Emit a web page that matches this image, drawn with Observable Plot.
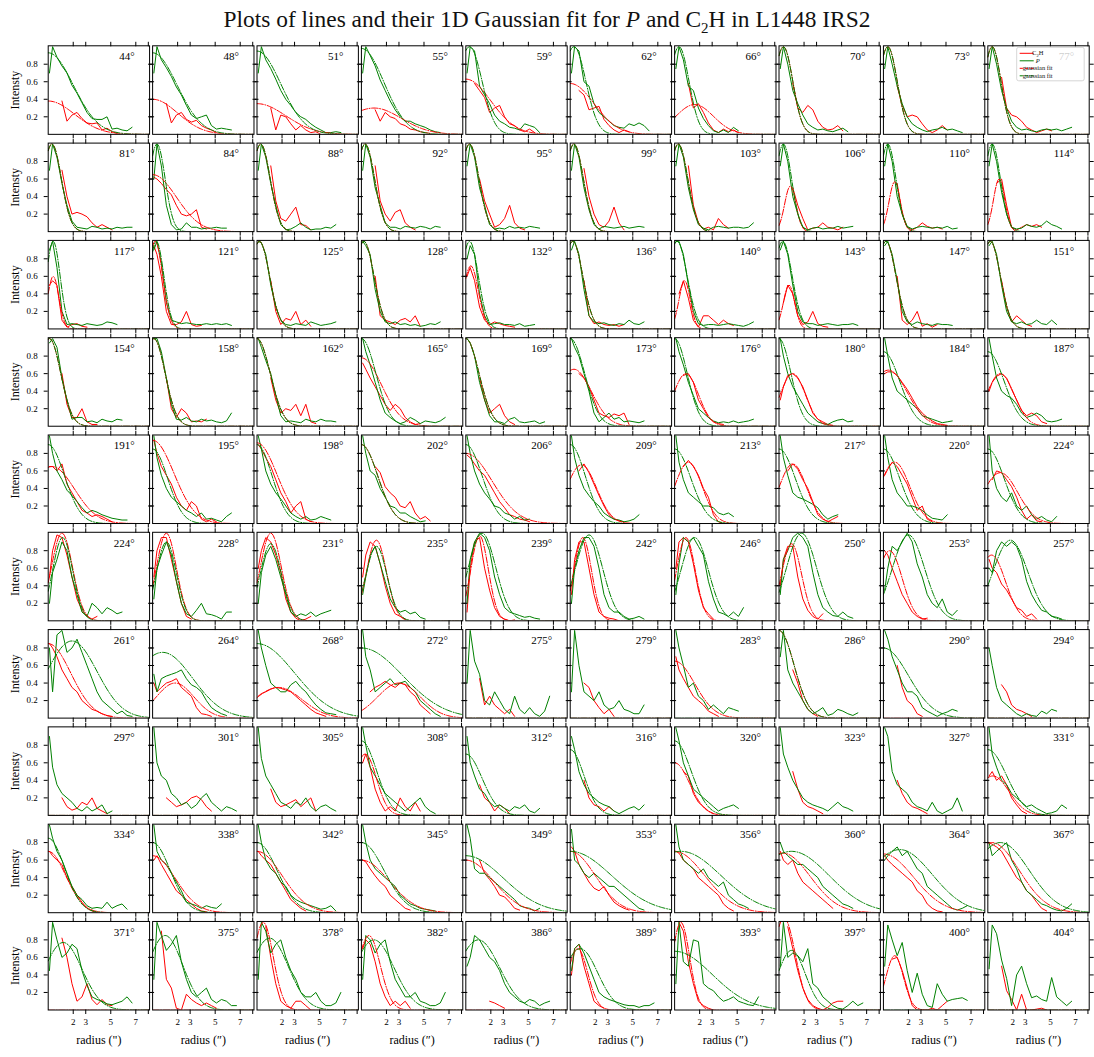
<!DOCTYPE html>
<html><head><meta charset="utf-8">
<script src="https://cdn.jsdelivr.net/npm/d3@7"></script>
<script src="https://cdn.jsdelivr.net/npm/@observablehq/plot@0.6"></script>
<style>
body{margin:0;background:#fff;font-family:"Liberation Serif",serif;}
#title{height:36px;width:1094px;text-align:center;font-size:23.4px;line-height:38px;color:#111;font-family:"Liberation Serif",serif;}
#title sub{font-size:15px;}
#chart svg{display:block;}
</style></head><body>
<div id="title">Plots of lines and their 1D Gaussian fit for <i>P</i> and C<sub>2</sub>H in L1448 IRS2</div>
<div id="chart"></div>
<script>
const _ = null;
// position angle of each panel (row-major, 10 x 10)
const angles = [44,48,51,55,59,62,66,70,73,77, 81,84,88,92,95,99,103,106,110,114,
 117,121,125,128,132,136,140,143,147,151, 154,158,162,165,169,173,176,180,184,187,
 191,195,198,202,206,209,213,217,220,224, 224,228,231,235,239,242,246,250,253,257,
 261,264,268,272,275,279,283,286,290,294, 297,301,305,308,312,316,320,323,327,331,
 334,338,342,345,349,353,356,360,364,367, 371,375,378,382,386,389,393,397,400,404];
// radius sampling (arcsec)
const radii = [0.1,0.35,0.7,1.1,1.5,1.9,2.3,2.7,3.1,3.5,3.9,4.3,4.7,5.1,5.5,5.9,6.3,6.7];
// P (green) intensity profiles
const greenLines = [
[.7,1,.88,.78,.7,.56,.47,.36,.25,.18,.17,.17,.2,.06,.07,.05,.04,.08],
[.7,1,.85,.76,.66,.54,.45,.33,.22,.18,.2,.22,.1,.06,.07,.06,.05],
[.7,1,.85,.75,.63,.5,.4,.33,.25,.2,.17,.12,.08,.05,.02,.02,.03,.02],
[.7,1,.9,.78,.62,.5,.38,.28,.2,.15,.15,.12,.1,.08,.05,.03,.02],
[.7,1,.95,.55,.45,.35,.22,.15,.12,.08,.07,.05,.12,.1,.08,.02],
[.7,1,.95,.6,.55,.35,.25,.2,.15,.1,.08,.07,.12,.1,.13,.1,.04],
[.75,1,.85,.55,.5,.3,.18,.1,.04,.02,.05,.02,.08,.04],
[.75,1,.8,.5,.35,.22,.12,.08,.05,.06,.04,.03,.05,.07,.03],
[.75,1,.8,.55,.35,.2,.12,.08,.05,.03,.05,.06,.08,.05,.06,.04,.02],
[.75,1,.8,.5,.3,.15,.08,.05,.06,.04,.03,.05,.06,.05,.06,.04,.06,.08],
[.7,1,.85,.55,.3,.12,.05,.04,.03,.06,.05,.03,.04,.03,.05,.04,.05,.05],
[.6,1,.75,.3,.08,.02,.03,.1,.05,.05,.03,.04,.04,.05,.04,.04],
[.7,1,.85,.55,.3,.08,.02,.03,.06,.1,.05,.02,.03,.03,.05,.04,.08],
[.7,1,.85,.5,.3,.1,.05,.05,.03,.06,.05,.04,.06,.05,.03,.06,.05],
[.75,1,.85,.5,.3,.08,.03,.04,.03,.06,.04,.05,.04,.06,.05,.04],
[.7,1,.85,.5,.25,.08,.03,.06,.05,.04,.05,.06,.04,.05,.06,.05],
[.75,1,.85,.5,.25,.08,.04,.02,.05,.06,.05,.04,.05,.05,.04,.05,.1],
[.75,1,.8,.4,.2,.05,.02,.04,.05,.03,.04,.04,.06,.04,.05,.06],
[.75,1,.8,.4,.2,.06,.03,.05,.06,.05,.04,.05,.04,.06,.03,.04],
[.75,1,.8,.45,.2,.05,.03,.04,.08,.06,.05,.07,.12,.08,.06,.03],
[.9,1,.7,.2,.05,.06,.05,.04,.06,.05,.04,.05,.08,.07,.05],
[.9,1,.75,.3,.1,.08,.06,.07,.06,.05,.05,.06,.05,.06,.05,.06,.04],
[1,.98,.85,.5,.25,.1,.05,.04,.06,.05,.04,.08,.06,.04,.05,.06,.08],
[1,.95,.85,.45,.2,.08,.06,.08,.05,.06,.04,.05,.03,.04,.06,.05,.08],
[.8,.95,.85,.4,.15,.05,.06,.07,.05,.05,.04,.06,.03,.04,.05],
[.9,1,.85,.45,.15,.08,.06,.07,.05,.04,.06,.05,.1,.06,.05,.08],
[1,1,.85,.5,.2,.06,.04,.05,.05,.04,.05,.06,.05,.04,.03,.05,.08],
[.9,1,.85,.5,.2,.08,.06,.06,.04,.05,.06,.05,.04,.05,.05,.06,.04],
[.95,1,.85,.55,.2,.08,.05,.08,.06,.05,.04,.06,.05,.05,.04],
[.95,1,.85,.5,.2,.08,.06,.08,.05,.06,.1,.06,.05,.1,.05],
[.95,1,.9,.55,.3,.08,.1,.1,.05,.06,.04,.08,.06,.05,.08,.07],
[1,1,.85,.55,.25,.08,.07,.1,.06,.05,.08,.06,.07,.05,.04,.06,.15],
[1,.9,.75,.6,.35,.12,.05,.06,.05,.04,.08,.06,.05,.08,.06,.06,.05],
[1,.85,.7,.5,.3,.15,.1,.06,.03,.05,.1,.07,.03,.06,.05,.04,.06,.1],
[1,.95,.8,.5,.3,.12,.05,.05,.03,.08,.1,.05,.04,.05,.06,.03,.05],
[1,.9,.8,.6,.4,.15,.05,.1,.15,.08,.1,.05,.06,.05,.04,.06],
[1,.85,.7,.5,.35,.2,.15,.1,.06,.04,.05,.04,.06,.04,.05,.06,.08],
[1,.8,.6,.45,.35,.25,.15,.1,.05,.03,.02,.05,.07,.08,.05,.06],
[1,.8,.55,.4,.35,.3,.25,.2,.12,.1,.08,.06,.04,.05,.06],
[1,.8,.55,.4,.35,.32,.25,.15,.1,.12,.15,.12,.06,.05,.06,.08],
[1,.8,.6,.5,.38,.32,.25,.18,.12,.15,.13,.1,.08,.06,.05,.04,.04],
[1,.75,.55,.4,.3,.25,.2,.15,.12,.08,.12,.05,.06,.04,.02,.08,.12],
[1,.85,.6,.45,.35,.28,.2,.12,.08,.05,.08,.04,.05,.08,.06,.04],
[1,.8,.6,.55,.4,.3,.2,.18,.12,.12,.08,.05,.02,.03],
[1,.8,.6,.45,.35,.28,.2,.18,.12,.1,.05,.08,.04,.05],
[1,.75,.55,.4,.32,.25,.2,.12,.08,.05,.04,.02,.03,.05,.1],
[1,.7,.5,.35,.3,.25,.2,.2,.18,.12,.1,.12,.08],
[1,.75,.55,.35,.3,.28,.25,.22,.18,.1,.05,.08,.1],
[1,.75,.5,.35,.28,.2,.2,.18,.15,.1,.06,.05,.04,.1],
[1,.6,.4,.3,.25,.35,.2,.15,.2,.1,.05,.08,.04,.02,.08],
[.2,.55,.7,.9,.8,.5,.3,.1,.05,.2,.15,.08,.15,.12,.08,.1],
[.25,.6,.75,.9,.75,.45,.2,.08,.05,.12,.2,.08,.07,.05,.02,.1,.1],
[.2,.55,.75,.85,.7,.5,.3,.1,.05,.08,.06,.1,.05,.08,.1,.12],
[.3,.5,.75,.85,.65,.45,.25,.15,.1,.12,.08,.1,.04,.02],
[.2,.7,.9,1,.95,.8,.5,.3,.15,.1,.08,.06,.04,.05,.03,.02],
[.2,.6,.8,.95,.95,.85,.6,.3,.15,.1,.1,.05,.02,.03,.05,.02],
[.3,.65,.95,.9,.95,.85,.75,.45,.25,.1,.08,.05,.1,.05,.15],
[.3,.7,.8,.95,1,.95,.85,.55,.3,.15,.1,.06,.05,.1,.05,.03],
[.35,.6,.85,.8,.9,1,.9,.65,.5,.3,.2,.15,.25,.1,.06,.12],
[.6,.55,.8,.9,.85,.9,.85,.7,.45,.3,.2,.12,.1,.05,.04,.02],
[.8,.3,.95,1,.75,.8,.9,.75,.6,.45,.3,.2,.15,.1,.05,.08,.03,.02],
[.5,.3,.45,.48,.5,.52,.55,.45,.38,.35,.3,.2,.12,.08,.05,.03],
[1,.8,.6,.4,.35,.3,.3,.38,.42,.35,.3,.22,.15,.1,.06,.05,.04],
[1,.7,.55,.3,.35,.4,.45,.38,.4,.42,.35,.3,.2,.15,.1,.05,.02],
[.4,1,.65,.5,.2,.15,.3,.2,.1,.05,.25,.1,.05,.12,.05,.02,.08,.25],
[.3,1,.6,.3,.25,.2,.3,.15,.1,.12,.2,.1,.08,.05,.05,.15],
[1,.8,.6,.35,.4,.25,.2,.1,.15,.1,.05,.12,.1,.08],
[.7,1,.55,.4,.3,.2,.1,.05,.08,.12,.03,.05,.1,.08,.05,.03,.06],
[1,.9,.7,.55,.4,.3,.3,.25,.12,.08,.05,.02,.05,.07,.1,.08],
[.8,.6,.35,.2,.15,.1,.05,.02,.05,.03,.02,.08,.05,.1,.08],
[.9,.55,.35,.25,.2,.15,.08,.05,.1,.05,.08,.12,.02,.05],
[1,.6,.45,.4,.25,.2,.12,.15,.08,.12,.2,.25,.15,.1,.05,.1,.08,.05],
[1,.65,.45,.35,.25,.15,.12,.08,.15,.12,.2,.1,.05,.1,.12,.08,.05],
[1,.8,.55,.45,.35,.25,.2,.15,.1,.05,.1,.15,.2,.1,.05,.02],
[.9,.6,.45,.3,.25,.15,.1,.12,.08,.05,.1,.08,.12,.05,.03,.08],
[.9,.75,.5,.35,.25,.2,.15,.12,.1,.05,.02,.05,.08,.1,.06,.12],
[1,.85,.6,.45,.3,.25,.2,.15,.1,.05,.08,.1,.12,.08],
[1,.7,.55,.4,.3,.2,.15,.12,.1,.08,.05,.1,.15,.1,.08,.05],
[1,.9,.5,.35,.3,.25,.15,.1,.08,.05,.15,.05,.02,.05,.08,.2,.05],
[1,.7,.55,.4,.35,.25,.2,.15,.1,.12,.08,.05,.02,.03,.05,.12,.08],
[1,.85,.7,.6,.45,.3,.2,.15,.08,.05,.06,.05,.12,.05,.08,.1,.04],
[1,.7,.6,.55,.45,.35,.25,.12,.1,.08,.05,.08,.06,.05,.1],
[1,.8,.6,.5,.45,.35,.3,.2,.15,.12,.1,.08,.06,.04,.05,.08,.02],
[1,.8,.6,.5,.45,.4,.35,.3,.2,.15,.1,.08,.05,.04,.03,.02],
[1,.85,.5,.45,.45,.4,.35,.3,.25,.2,.15,.08,.06,.05,.02,.05],
[.95,.6,.55,.45,.4,.45,.4,.35,.3,.3,.25,.2,.15,.1,.05,.03],
[1,.75,.6,.55,.5,.45,.5,.4,.35,.3,.35,.2,.15,.1,.08,.05],
[.8,.7,.65,.6,.55,.55,.5,.45,.4,.3,.25,.2,.15,.1,.08,.05],
[.6,.65,.7,.75,.65,.7,.6,.5,.45,.3,.25,.2,.15,.1,.05,.03,.05,.08],
[.8,.65,.7,.75,.8,.6,.5,.35,.25,.2,.15,.1,.08,.05,.03,.02,.05,.1],
[.45,1,.8,.6,.65,.75,.7,.45,.28,.15,.12,.1,.07,.06,.08,.1,.15,.08],
[.35,1,.85,.68,.75,.85,.55,.35,.2,.15,.2,.25,.12,.08,.12,.1,.05,.05],
[.35,1,.9,.65,.75,.8,.6,.45,.35,.2,.15,.15,.2,.1,.05,.05,.08,.2],
[.35,.85,.8,.65,.75,.8,.55,.35,.25,.15,.15,.2,.1,.08,.05,.05,.08,.2],
[.5,.6,.85,.8,.7,.6,.55,.45,.3,.2,.15,.1,.08,.12,.1,.05,.08,.1],
[.45,.7,.75,.65,.5,.35,.2,.15,.12,.1,.08,.06,.05,.05,.03,.05,.05,.08],
[.3,1,.55,.5,.8,.78,.3,.25,.22,.15,.1,.12,.15,.1,.08,.06,.05,.15],
[.5,1,.6,.65,.62,.55,.7,.3,.25,.15,.1,.05,.02,.01,.05,.1,.05,.08],
[.5,.97,.8,.62,.77,.45,.2,.42,.18,.05,.03,.3,.18,.1,.12,.13,.14,.11],
[.47,.97,.87,.57,.36,.05,.4,.5,.3,.14,.16,.12,.1,.37,.15,.1,.05,.1]
];
// C2H (red) intensity profiles
const redLines = [
[_,_,_,.38,.15,.22,.25,.18,.13,.12,.13,.05,.07,.03,.01],
[_,_,_,.35,.13,.22,.25,.17,.14,.16,.1,.07,.05,.02],
[_,_,_,.3,.05,.22,.2,.12,.05,.1,.05,.02,.03,0],
[_,_,_,.28,.15,.25,.2,.18,.12,.1,.06,.05,.03,.02,.01],
[_,_,.58,.5,.42,.25,.3,.33,.2,.12,.1,.05,.03,.06,.02],
[_,_,.5,.45,.28,.3,.32,.17,.1,.05,.02,.05,.03],
[_,_,_,.58,.3,.35,.25,.13,.05,.02,.06,.03,.05,.02],
[_,_,_,.58,.3,.25,.33,.28,.15,.08,.05,.06,.1,.04],
[_,_,_,.55,.33,.2,.22,.2,.12,.05,.02,.05,.1,.05],
[_,_,_,.65,.3,.22,.2,.15,.08,.05,.02,.04,.06,.04],
[_,_,_,.7,.4,.2,.22,.2,.17,.1,.05,.08,.05,.02],
[.62,.6,.55,.48,.42,.3,.2,.18,.2,.25,.05,.03],
[_,_,_,.75,.35,.15,.12,.2,.28,.08,.07,.02],
[_,_,_,.75,.35,.2,.12,.22,.25,.1,.05,.02],
[_,_,_,.6,.35,.2,.05,.08,.15,.3,.1,.04,.02],
[_,_,_,.72,.4,.2,.08,.05,.12,.28,.1,.02],
[_,_,_,.75,.3,.1,.03,.05,.02,.15,.08,.04],
[_,_,_,.5,.3,.15,.02,.04,.05,.1,.05,.04,.02,.05],
[_,_,_,.55,.2,.05,.02,.05,.1,.06,.04,.05,.03],
[_,_,.55,.6,.3,.05,.02,.05,.08,.06,.08,.05],
[.5,.55,.5,.1,.02,.05,.06,.03,.02],
[.95,.85,.6,.2,.05,.05,.08,.2,.05,.03,.04],
[_,_,_,.55,.2,.05,.12,.1,.2,.05,.1,.03],
[_,_,_,.6,.15,.1,.08,.05,.1,.12,.08,.15,.03],
[.6,.7,.55,.25,.1,.05,.08,.06,.04,.03,.02],
[_,_,_,.55,.15,.06,.08,.05,.04,.05,.03,.05],
[_,.4,.55,.35,.1,.02,.15,.15,.1,.05,.1,.06,.04],
[_,.3,.5,.4,.15,.05,.08,.2,.06,.03,.02],
[_,_,_,.6,.1,.05,.1,.2,.03,.06,.02,.05],
[_,_,_,.55,.25,.08,.15,.1,.05,.03],
[_,_,_,.6,.25,.1,.1,.2,.05,.02,.02],
[_,_,_,.55,.2,.1,.2,.15,.05,.06,.05,.08],
[_,_,_,.55,.3,.15,.2,.18,.25,.12,.25,.05,.03],
[.72,.65,.55,.45,.35,.25,.18,.25,.2,.1,.05,.02,.03],
[_,_,_,.55,.3,.15,.2,.25,.12,.05,.02],
[_,_,.6,.55,.45,.3,.15,.12,.1,.14,.12,.15,.02],
[_,_,.58,.6,.5,.3,.2,.1,.05,.03,.02],
[.3,.45,.58,.6,.55,.45,.3,.15,.08,.05,.02,.01],
[.6,.62,.62,.58,.5,.42,.32,.22,.15,.1,.06,.03,.02,.01],
[.4,.5,.57,.6,.55,.42,.3,.18,.12,.15,.12,.05,.03],
[.65,.65,.6,.68,.45,.35,.25,.15,.12,.08,.1,.08,.05,.02],
[.95,.8,.65,.55,.45,.3,.2,.15,.25,.2,.05,.02,.05,.02],
[.9,.85,.75,.65,.5,.35,.25,.12,.2,.25,.05,.02],
[_,_,_,.65,.58,.42,.35,.3,.2,.18,.25,.12,.05,.08,.03],
[.78,.75,.68,.6,.55,.45,.35,.25,.18,.1,.08,.05,.04,.02],
[_,_,.6,.68,.58,.45,.32,.2,.1,.05,.03,.02],
[_,_,.65,.72,.65,.55,.4,.3,.1,.02,0],
[_,_,.6,.68,.62,.5,.4,.25,.1,.05,.02,.05,.08],
[.55,.62,.7,.65,.55,.45,.3,.15,.2,.05,.02],
[_,.5,.6,.58,.5,.42,.3,.15,.05,.1,.03,.02],
[.5,.8,.98,.95,.75,.5,.25,.12,.05,.02,.05],
[.5,.8,.95,.95,.7,.45,.2,.05,.02],
[.6,.8,.95,.9,.75,.55,.25,.1,.03,0,.02,.05],
[.5,.75,.9,.85,.65,.4,.2,.08,.05,.02],
[.1,.6,.9,.95,.6,.35,.15,.05,.02,0,.01],
[.3,.7,.9,.9,.6,.3,.1,.05,.03,.02,0],
[.6,.9,.95,.9,.65,.35,.15,.08,.02],
[.4,.7,.85,.85,.5,.25,.12,.05,.02,.08],
[.8,.75,.6,.45,.3,.2,.1,.05,.02,.03],
[.7,.6,.55,.42,.35,.25,.15,.12,.05,.08,.02],
[.85,.8,.7,.55,.45,.35,.3,.2,.15,.1,.08,.05,.03,.02],
[.4,.3,.35,.4,.42,.45,.35,.3,.25,.12,.05,.04,.02],
[.25,.28,.3,.33,.35,.34,.32,.3,.25,.2,.15,.1,.06,.04,.02],
[_,_,.3,.35,.38,.42,.38,.35,.4,.38,.3,.25,.15,.1,.05],
[_,_,_,.45,.15,.25,.15,.1,.05,.1,.02],
[_,_,_,.4,.35,.2,.12,.05,.1,.02],
[.7,.55,.45,.35,.25,.2,.15,.08,.05,.02],
[_,_,_,.55,.4,.2,.1,.05,.02],
[_,_,_,.6,.35,.2,.15,.05,.02],
[_,_,_,.38,.3,.15,.1,.08,.05,.02],
[_,_,_,.2,.1,.06,.08,.15,.12,.2,.08,.05,.02],
[_,_,_,.2,.15,.1,.12,.15,.2,.22,.18,.1,.05],
[_,_,_,.3,.15,.1,.12,.15,.18,.1,.15,.2,.05],
[.6,.7,.55,.3,.15,.05,.1,.05,.2,.1,.05,.15,.05],
[_,_,_,.35,.2,.15,.05,.12,.08,.02],
[_,_,_,.4,.2,.12,.1,.05,.1,.05],
[_,_,.5,.45,.25,.15,.1,.05,.02],
[_,_,_,.5,.3,.15,.1,.08,.05,.02],
[_,_,_,.4,.25,.15,.1,.08,.05,.02],
[.45,.5,.4,.45,.35,.2,.12,.05,.02],
[.7,.65,.6,.55,.4,.3,.2,.12,.05,.02,0],
[.6,.65,.55,.45,.35,.25,.2,.15,.1,.05,.02,.01],
[.7,.65,.6,.55,.45,.35,.25,.15,.1,.05,.02],
[.6,.58,.5,.42,.35,.3,.2,.15,.1,.05,.03],
[_,_,_,.6,.45,.38,.3,.2,.18,.12,.05,.03],
[.75,.7,.55,.45,.35,.28,.25,.3,.2,.12,.08,.05,.03],
[.7,.68,.6,.55,.5,.4,.35,.3,.25,.2,.1,.05,.02],
[.7,.6,.55,.6,.45,.35,.3,.25,.2,.15,.1,.05],
[.65,.6,.55,.5,.45,.4,.35,.25,.2,.1,.05,.02,.01],
[.8,.78,.75,.7,.6,.5,.4,.35,.25,.2,.12,.05,.02],
[_,_,_,.82,.6,.3,.1,.15,.3,.12,.06,.12,.06,.05],
[_,_,.9,.35,.25,.02,0,.18,.12,.08,.05,.08,.05,.02],
[_,_,.95,.6,.3,.1,.05,.02,.1,.1,.05,0],
[.7,.8,.75,.55,.3,.15,.05,.1,.05,.1,.02],
[_,_,_,_,_,.1,.08,.05,.02],
[.4,.7,.75,.5,.3,.1,.05,.02],
[_,1,.9,.55,.3,.1,.05,.02,0],
[_,_,.95,.7,.45,.25,.12,.05,.02,0,.03,.08,.1,.1],
[_,_,.58,.6,.45,.25,.05,0,0,0,.02,0,.05,.1],
[_,_,_,.5,.22,.12,0,.18,0,0,.01,.02,0]
];
// 1D Gaussian fit parameters [amplitude, centre (arcsec), sigma (arcsec)]
const greenFits = [
[.93,0,2],[.93,0,1.95],[.95,0,1.9],[.98,0,1.8],[1,.3,1],[1,.3,.95],[1,.35,.8],[1,.35,.75],[1,.35,.75],[1,.35,.7],
[1,.3,.75],[1,.35,.65],[1,.3,.75],[1,.3,.75],[1,.3,.75],[1,.3,.75],[1,.3,.75],[1,.35,.65],[1,.35,.65],[1,.35,.65],
[1,.4,.55],[1,.3,.6],[1,.2,.8],[1,.2,.8],[1,.3,.7],[1,.2,.8],[1,.2,.8],[1,.3,.75],[1,.2,.8],[1,.2,.8],
[1,.1,.9],[1,.1,.9],[1,0,1.05],[1,0,1.15],[1,0,1.05],[1,0,1.15],[1,0,1],[1,0,.95],[.85,0,1.3],[.85,0,1.3],
[.9,0,1.3],[.85,0,1.2],[.9,0,1.2],[.9,0,1.3],[.9,0,1.3],[.9,0,1.2],[.85,0,1.3],[.85,0,1.3],[.85,0,1.3],[.85,0,1.3],
[.95,1.15,.8],[.9,1.1,.8],[.88,1.1,.85],[.85,1.2,.85],[1,1.3,1.1],[.98,1.5,1.1],[.95,1.6,1.1],[1,1.8,1.2],[.98,2,1.3],[.92,1.8,1.4],
[.88,1.9,2],[.75,.8,2.4],[.85,0,3],[.8,0,3.3],[0,0,1],[0,0,1],[0,0,1],[1,0,1.2],[.8,0,2],[0,0,1],
[0,0,1],[0,0,1],[0,0,1],[.85,0,1.2],[.7,0,1.3],[.75,0,1.1],[.85,0,1.3],[0,0,1],[0,0,1],[.75,0,1.5],
[.85,0,1.3],[.8,0,1.4],[.8,0,1.6],[.8,0,1.8],[.65,0,3],[.7,0,3.3],[.7,.5,3.2],[.7,1,3],[.72,1.3,2.6],[.8,1,2.3],
[.77,1.2,1.5],[.85,1,1.4],[.82,1,1.5],[.8,1,1.6],[.8,1,1.7],[.7,.8,1.4],[.67,0,3],[.68,1,1.1],[0,0,1],[0,0,1]
];
const redFits = [
[.38,0,2.1],[.4,0,2],[.35,0,2.3],[.3,1,2.2],[.63,0,2],[.58,0,1.9],[.34,1.6,1.5],[1,.35,.75],[1,.35,.75],[1,.35,.7],
[1,.3,.75],[.65,0,1.9],[1,.3,.75],[1,.3,.75],[1,.3,.75],[1,.3,.75],[1,.3,.75],[.52,.9,.45],[.57,.9,.45],[.6,.9,.45],
[.6,.4,.45],[1,.2,.6],[1,.2,.8],[1,.2,.8],[.72,.4,.6],[1,.2,.8],[.55,.8,.45],[.5,.8,.45],[1,.2,.8],[1,.2,.8],
[1,.1,.9],[1,.1,.9],[1,0,1.05],[.78,0,1.6],[1,0,1.05],[.65,.3,1.4],[.6,.9,1],[.6,1.1,1],[.64,.4,1.5],[.6,1,1.1],
[.65,.3,1.8],[.95,0,1.7],[.92,0,1.6],[.9,0,1.3],[.8,0,2.1],[.67,.9,1.2],[.7,1.1,1.1],[.68,1.1,1.1],[.7,.9,1.2],[.58,1,1.4],
[1,1.1,.85],[1,1.1,.8],[1,1.1,.85],[.92,1.2,.8],[.97,1.1,.7],[.95,1,.7],[.95,.9,.75],[.88,1,.8],[.8,.5,1],[.75,.3,1.1],
[.85,0,1.8],[.4,1.8,1.5],[.35,1.7,1.9],[.4,3,1.7],[0,0,1],[0,0,1],[.65,0,1.6],[1,0,1.2],[0,0,1],[0,0,1],
[0,0,1],[0,0,1],[0,0,1],[.7,.3,.9],[0,0,1],[0,0,1],[.6,0,1.2],[0,0,1],[0,0,1],[.45,.4,1.3],
[.7,0,1.4],[.65,0,1.8],[.7,0,2],[.6,0,2.2],[.6,0,2.2],[.7,0,2],[.7,0,2.4],[.68,.3,2.2],[.67,0,2.4],[.8,.3,2.2],
[0,0,1],[0,0,1],[1,.5,.8],[.85,.6,.9],[0,0,1],[.7,.6,.8],[1,.5,.7],[1.05,.4,.9],[.62,.9,.7],[0,0,1]
];
const xTicks = [2,3,5,7,8];
const xTickLabels = [2,3,5,7];
const yTicks = [0.2,0.4,0.6,0.8];
const RED = "#ff0000", GREEN = "#008000";

// build tidy tables
const lineRows = [], fitRows = [];
const fitRadii = d3.range(0, 8.101, 0.1);
angles.forEach((a, i) => {
  const col = i % 10, row = Math.floor(i / 10);
  [["g", greenLines[i]], ["r", redLines[i]]].forEach(([kind, arr]) => {
    arr.forEach((v, k) => { if (v != null) lineRows.push({col, row, key: i, kind, r: radii[k], v}); });
  });
  [["g", greenFits[i]], ["r", redFits[i]]].forEach(([kind, [A, mu, s]]) => {
    fitRadii.forEach(r => fitRows.push({col, row, key: i, kind, r, v: A * Math.exp(-((r - mu) ** 2) / (2 * s * s))}));
  });
});
const panels = angles.map((a, i) => ({a, col: i % 10, row: Math.floor(i / 10)}));
const FONT = "'Liberation Serif', serif";
const dash = "6.4,1.6,1,1.6";

const plot = Plot.plot({
  width: 1094, height: 1021,
  marginLeft: 47.7, marginRight: 5.3, marginTop: 9.3, marginBottom: 47.5,
  style: {fontFamily: FONT, background: "white", color: "black", overflow: "visible"},
  fx: {domain: d3.range(10), paddingInner: 0.029, paddingOuter: 0, axis: null, label: null, round: false},
  fy: {domain: d3.range(10), paddingInner: 0.09, paddingOuter: 0, axis: null, label: null, round: false},
  x: {domain: [0, 8.1]},
  y: {domain: [0, 1.01]},
  marks: [
    Plot.line(lineRows.filter(d => d.kind === "r"), {x: "r", y: "v", fx: "col", fy: "row", z: "key", stroke: RED, strokeWidth: 1, clip: true}),
    Plot.line(lineRows.filter(d => d.kind === "g"), {x: "r", y: "v", fx: "col", fy: "row", z: "key", stroke: GREEN, strokeWidth: 1, clip: true}),
    Plot.line(fitRows.filter(d => d.kind === "r"), {x: "r", y: "v", fx: "col", fy: "row", z: "key", stroke: RED, strokeWidth: 1, strokeDasharray: dash, clip: true}),
    Plot.line(fitRows.filter(d => d.kind === "g"), {x: "r", y: "v", fx: "col", fy: "row", z: "key", stroke: GREEN, strokeWidth: 1, strokeDasharray: dash, clip: true}),
    Plot.frame({stroke: "black", strokeWidth: 1}),
    Plot.axisX({ticks: xTicks, anchor: "top", facetAnchor: null, tickSize: 4.5, tickFormat: () => "", label: null}),
    Plot.axisX({ticks: xTicks, anchor: "bottom", facetAnchor: null, tickSize: 4.5, tickFormat: () => "", label: null}),
    Plot.axisY({ticks: yTicks, anchor: "left", facetAnchor: null, tickSize: 4, tickFormat: () => "", label: null}),
    Plot.axisY({ticks: yTicks, anchor: "right", facetAnchor: null, tickSize: 4, tickFormat: () => "", label: null}),
    Plot.axisX({ticks: xTickLabels, anchor: "bottom", facetAnchor: "bottom", tickSize: 0, tickPadding: 9, tickFormat: d => String(d), label: null, fontSize: 9}),
    Plot.axisY({ticks: yTicks, anchor: "left", facetAnchor: "left", tickSize: 0, tickPadding: 10.5, tickFormat: d => d.toFixed(1), label: null, fontSize: 9}),
    Plot.text(panels, {fx: "col", fy: "row", frameAnchor: "top-right", dx: -15, dy: 6.5, lineAnchor: "top", textAnchor: "end", text: d => d.a + "°", fontSize: 11}),
    Plot.text(d3.range(10), {fx: () => 0, fy: d => d, frameAnchor: "left", dx: -33, rotate: -90, textAnchor: "middle", lineAnchor: "middle", text: () => "Intensty", fontSize: 12}),
    Plot.text(d3.range(10), {fx: d => d, fy: () => 9, frameAnchor: "bottom", dy: 30, textAnchor: "middle", lineAnchor: "middle", text: d => d === 0 ? "radius (\")" : "radius (\u2033)", fontSize: 12})
  ]
});
document.getElementById("chart").append(plot);

// legend inside the top-right panel
const svg = d3.select(plot.tagName.toLowerCase() === "svg" ? plot : plot.querySelector("svg"));
const fxs = plot.scale("fx"), fys = plot.scale("fy");
const bx1 = fxs.apply(9) + fxs.bandwidth - 4.5, bx0 = bx1 - 67.5, by0 = fys.apply(0) + 2;
const lg = svg.append("g").attr("font-family", FONT);
lg.append("rect").attr("x", bx0).attr("y", by0).attr("width", bx1 - bx0).attr("height", 33.5)
  .attr("rx", 2).attr("fill", "white").attr("fill-opacity", 0.8).attr("stroke", "#cccccc").attr("stroke-width", 0.8);
const entries = [
  {stroke: RED, dash: null, label: "C2H"},
  {stroke: GREEN, dash: null, label: "P"},
  {stroke: RED, dash: "3.2,0.8,0.5,0.8", label: "gaussian fit"},
  {stroke: GREEN, dash: "3.2,0.8,0.5,0.8", label: "gaussian fit"}
];
entries.forEach((e, k) => {
  const y = by0 + 6 + k * 7.5;
  lg.append("line").attr("x1", bx0 + 3).attr("x2", bx0 + 17).attr("y1", y).attr("y2", y)
    .attr("stroke", e.stroke).attr("stroke-width", 1).attr("stroke-dasharray", e.dash);
  const t = lg.append("text").attr("x", bx0 + 21).attr("y", y + 2).attr("font-size", 6.5).attr("fill", "#111");
  if (k === 0) { t.text("C"); t.append("tspan").attr("font-size", 4.5).attr("dy", 1.5).text("2"); t.append("tspan").attr("dy", -1.5).text("H"); }
  else if (k === 1) { t.attr("font-style", "italic").text("P"); }
  else t.text(e.label);
});
</script>
</body></html>
